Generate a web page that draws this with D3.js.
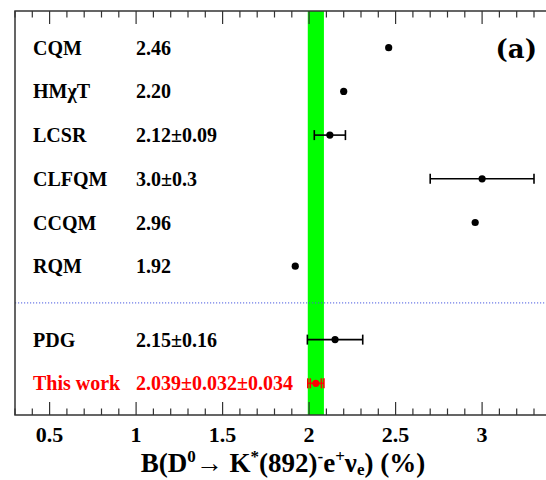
<!DOCTYPE html>
<html>
<head>
<meta charset="utf-8">
<script src="https://cdn.jsdelivr.net/npm/d3@7"></script>
<style>
  html, body { margin: 0; padding: 0; background: #fff; }
  svg { display: block; }
</style>
</head>
<body>
<div id="chart"></div>
<script>
// theory predictions
const theoryNames = ["CQM", "HMχT", "LCSR", "CLFQM", "CCQM", "RQM"];
const theoryLabels = ["2.46", "2.20", "2.12±0.09", "3.0±0.3", "2.96", "1.92"];
const theoryValues = [2.46, 2.20, 2.12, 3.0, 2.96, 1.92];
const theoryErrors = [0, 0, 0.09, 0.3, 0, 0];

// measurements
const expNames = ["PDG", "This work"];
const expLabels = ["2.15±0.16", "2.039±0.032±0.034"];
const expValues = [2.15, 2.039];
const expStat = [0.16, 0.032];
const expSyst = [0, 0.034];

const xTicks = [0.5, 1, 1.5, 2, 2.5, 3];

const width = 546, height = 480;
const frameLeft = 15, frameTop = 11, frameBottom = 415;
const font = "'Liberation Serif', 'Times New Roman', serif";

const x = d3.scaleLinear().domain([0.3, 3.4]).range([frameLeft, frameLeft + 3.1 * 173]);
// row units: theory rows 0..5, measurements after a gap
const gap = 0.68;
const y = d3.scaleLinear().domain([0, 1]).range([47.7, 47.7 + 43.7]);

const rows = theoryNames.map((n, i) => ({
    name: n, label: theoryLabels[i], v: theoryValues[i], e: theoryErrors[i], s: 0,
    u: i, color: "#000"
})).concat(expNames.map((n, j) => ({
    name: n, label: expLabels[j], v: expValues[j], e: expStat[j], s: expSyst[j],
    u: theoryNames.length + gap + j, color: j === expNames.length - 1 ? "#ff0000" : "#000"
})));

const svg = d3.select("#chart").append("svg")
    .attr("width", width)
    .attr("height", height)
    .style("font-family", font)
    .style("font-weight", "bold");

// result band (stat and syst in quadrature)
const me = expNames.length - 1;
const tot = Math.sqrt(expStat[me] ** 2 + expSyst[me] ** 2);
svg.append("rect")
    .attr("x", x(expValues[me] - tot))
    .attr("y", frameTop)
    .attr("width", x(expValues[me] + tot) - x(expValues[me] - tot))
    .attr("height", frameBottom - frameTop)
    .attr("fill", "#00ff00");

// divider between predictions and measurements
const divU = (theoryNames.length - 1 + theoryNames.length + gap) / 2;
svg.append("line")
    .attr("x1", frameLeft).attr("x2", width)
    .attr("y1", y(divU)).attr("y2", y(divU))
    .attr("stroke", "#4a5ae0")
    .attr("stroke-width", 1)
    .attr("stroke-dasharray", "1.2,1.8");

// frame
svg.append("path")
    .attr("d", `M${width},${frameTop}H${frameLeft}V${frameBottom}H${width}`)
    .attr("stroke", "#333").attr("stroke-width", 1.5).attr("fill", "none");

// ticks, inside the frame on top and bottom
const minor = d3.range(3, 35).map(d => d / 10);
const tk = svg.append("g").attr("stroke", "#333").attr("stroke-width", 1.2);
minor.forEach(v => {
    const major = Math.abs(v * 2 - Math.round(v * 2)) < 1e-6;
    const len = major ? 13 : 6.5;
    tk.append("line").attr("x1", x(v)).attr("x2", x(v)).attr("y1", frameTop).attr("y2", frameTop + len);
    tk.append("line").attr("x1", x(v)).attr("x2", x(v)).attr("y1", frameBottom).attr("y2", frameBottom - len);
});

svg.append("g").selectAll("text")
    .data(xTicks)
    .join("text")
    .attr("x", d => x(d))
    .attr("y", 442)
    .attr("text-anchor", "middle")
    .attr("font-size", 22)
    .text(d => d);

// rows: name, value text, point with errors
const row = svg.append("g").selectAll("g")
    .data(rows)
    .join("g")
    .attr("transform", d => `translate(0,${y(d.u)})`)
    .attr("fill", d => d.color);

row.append("text")
    .attr("x", 33)
    .attr("y", 7)
    .attr("font-size", 20)
    .text(d => d.name);

row.append("text")
    .attr("x", 136)
    .attr("y", 7)
    .attr("font-size", 20)
    .text(d => d.label);

row.filter(d => d.e > 0).each(function (d) {
    const g = d3.select(this).append("g").attr("stroke", d.color).attr("stroke-width", 1.6);
    const bars = [d.e];
    if (d.s > 0) bars.push(Math.sqrt(d.e ** 2 + d.s ** 2));
    const outer = bars[bars.length - 1];
    g.append("line").attr("x1", x(d.v - outer)).attr("x2", x(d.v + outer));
    bars.forEach(e => {
        [d.v - e, d.v + e].forEach(p => {
            g.append("line").attr("x1", x(p)).attr("x2", x(p)).attr("y1", -5).attr("y2", 5);
        });
    });
});

row.append("circle")
    .attr("cx", d => x(d.v))
    .attr("r", 3.6)
    .attr("fill", d => d.color);

svg.append("text")
    .attr("x", 537)
    .attr("y", 58)
    .attr("text-anchor", "end")
    .attr("font-family", "'DejaVu Serif', serif")
    .attr("font-size", 26)
    .text("(a)");

// axis title
const title = svg.append("text")
    .attr("x", 283)
    .attr("y", 472)
    .attr("text-anchor", "middle")
    .attr("font-size", 27);
const parts = [
    ["B(D", 0], ["0", -1], ["→ K", 0], ["*", -1], ["(892)", 0], ["-", -1],
    ["e", 0], ["+", -1], ["ν", 0], ["e", 1], [") (%)", 0]
];
let prev = 0;
parts.forEach(([t, s]) => {
    const off = s === -1 ? -10 : s === 1 ? 3 : 0;
    title.append("tspan")
        .attr("dy", off - prev)
        .attr("font-size", s === 0 ? 27 : 17)
        .text(t);
    prev = off;
});
</script>
</body>
</html>
